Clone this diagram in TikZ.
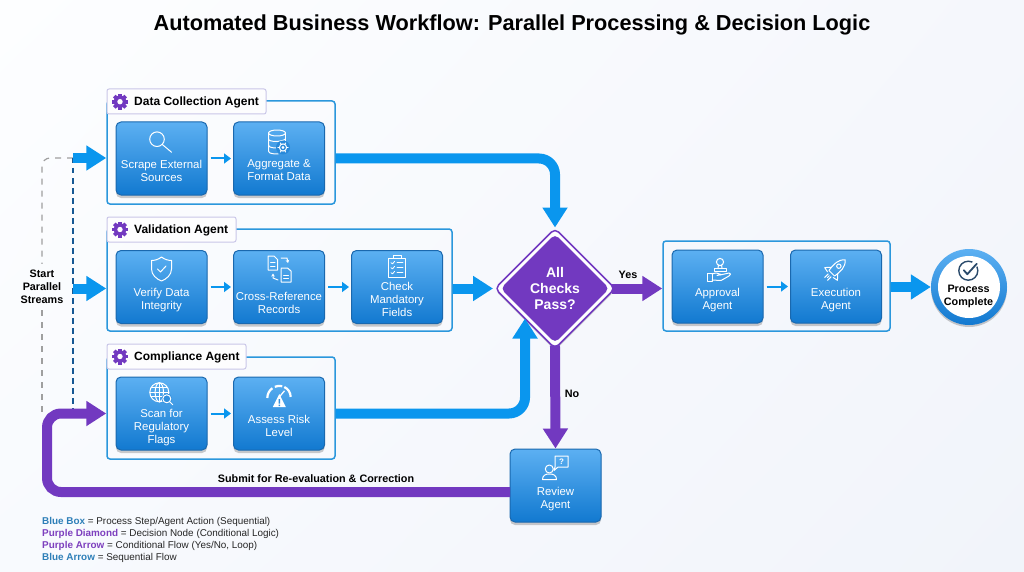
\documentclass[tikz,border=0pt]{standalone}
\usepackage{fontspec}
\setmainfont{Liberation Sans}
\usetikzlibrary{arrows.meta,shapes.geometric,shadows,shadings,calc}
\definecolor{flowblue}{HTML}{0A96EE}
\definecolor{flowpurple}{HTML}{7239C0}
\definecolor{frameblue}{HTML}{2B97DC}
\definecolor{boxtop}{HTML}{5CB0F2}
\definecolor{boxbottom}{HTML}{1279D0}
\definecolor{boxedge}{HTML}{1A68AE}
\definecolor{tabedge}{HTML}{C9C6E8}
\definecolor{legendblue}{HTML}{2E7FB8}
\definecolor{legendpurple}{HTML}{7D3FBE}
\definecolor{checkdark}{HTML}{2A4A6B}
\definecolor{bgupleft}{HTML}{FDFEFF}
\definecolor{bgupright}{HTML}{F5F7FC}
\definecolor{bglowleft}{HTML}{F8FAFE}
\definecolor{bglowright}{HTML}{F1F4FA}
\tikzset{
    stepbox/.style={draw=boxedge,line width=1pt,rounded corners=5pt,minimum width=91pt,minimum height=73pt,
        top color=boxtop,bottom color=boxbottom,inner sep=0pt,
        drop shadow={shadow xshift=0pt,shadow yshift=-3pt,opacity=.2,fill=black}},
    steptext/.style={text=white,align=center,font=\fontsize{11.4}{13}\selectfont,inner sep=0pt},
    agentframe/.style={draw=frameblue,line width=1.5pt,rounded corners=3pt,inner sep=0pt},
    agenttab/.style={draw=tabedge,line width=1pt,fill=white!97!tabedge,rounded corners=2pt,inner sep=0pt,minimum height=25pt},
    tabtext/.style={text=black,font=\bfseries\fontsize{12}{14}\selectfont,inner sep=0pt,anchor=west},
    flowlabel/.style={text=black,font=\bfseries\fontsize{10.8}{13}\selectfont,inner sep=0pt,align=center},
    bluearrow/.style={draw=flowblue,line width=10pt,-{Triangle[width=24pt,length=20pt]},rounded corners=16pt},
    purplearrow/.style={draw=flowpurple,line width=10pt,-{Triangle[width=24pt,length=20pt]},rounded corners=14pt},
    smallarrow/.style={draw=flowblue,line width=2pt,-{Triangle[width=10pt,length=7pt]},shorten <=3pt,shorten >=2pt},
    iconline/.style={draw=white,line width=1pt,line cap=round,line join=round},
    gearicon/.pic={
        \foreach \a in {0,45,...,135}
            \fill[flowpurple,rotate=\a] (-1.9,-8) rectangle (1.9,8);
        \fill[flowpurple] (0,0) circle (6.2);
        \fill[white] (0,0) circle (2.7);
    },
    magicon/.pic={
        \draw[iconline] (-3,-2.5) circle (7.3);
        \draw[iconline] (2.2,2.7) -- (11.5,10.5);
    },
    dbicon/.pic={
        \draw[iconline] (0,-8) ellipse (8.5 and 3);
        \draw[iconline] (-8.5,-8) -- (-8.5,10) .. controls (-8.5,13) and (-2,13) .. (1,13);
        \draw[iconline] (8.5,-8) -- (8.5,1);
        \draw[iconline] (-8.5,-2) .. controls (-8.5,1) and (4,1.5) .. (8.5,-2);
        \draw[iconline] (-8.5,4) .. controls (-8.5,7) and (-2,7) .. (0,7);
        \fill[boxbottom!70!boxtop] (6,6.5) circle (7);
        \draw[iconline] (6,6.5) circle (3.6);
        \draw[iconline] (6,6.5) circle (1);
        \foreach \a in {0,60,...,300}
            \draw[iconline,shift={(6,6.5)},rotate=\a] (3.6,0) -- (5.2,0);
    },
    shieldicon/.pic={
        \draw[iconline] (0,-12) .. controls (3,-9.5) and (7,-8.5) .. (10,-8.5)
            -- (10,0) .. controls (10,6) and (5,10) .. (0,12)
            .. controls (-5,10) and (-10,6) .. (-10,0) -- (-10,-8.5)
            .. controls (-7,-8.5) and (-3,-9.5) .. (0,-12) -- cycle;
        \draw[iconline] (-4,0) -- (-1,3) -- (4.5,-3);
    },
    docsicon/.pic={
        \draw[iconline] (-11,-13) -- (-5,-13) -- (-1.5,-9.5) -- (-1.5,1) -- (-11,1) -- cycle;
        \draw[iconline] (-8.5,-6.5) -- (-4,-6.5) (-8.5,-3) -- (-4,-3);
        \draw[iconline] (2,-0) -- (2,13) -- (12,13) -- (12,2) -- (8.5,-1) -- (2,-1);
        \draw[iconline] (4.5,6) -- (9.5,6) (4.5,9.5) -- (9.5,9.5);
        \draw[iconline,->,>={Stealth[length=3pt,width=3.5pt]}] (2,-11) -- (8,-11) -- (9,-6);
        \draw[iconline,->,>={Stealth[length=3pt,width=3.5pt]}] (-1,11) -- (-6,9) -- (-6,4.5);
    },
    clipicon/.pic={
        \draw[iconline] (-8.5,-8.5) -- (-8.5,11) -- (8.5,11) -- (8.5,-8.5) -- cycle;
        \draw[iconline] (-4,-8.5) -- (-4,-11) -- (4,-11) -- (4,-8.5);
        \foreach \y in {-4,1,6} {
            \draw[iconline,line width=.8pt] (-6,\y) -- (-4.5,\y+1.2) -- (-2.5,\y-1.2);
            \draw[iconline,line width=.8pt] (0,\y) -- (6,\y);
        }
    },
    globeicon/.pic={
        \draw[iconline] (0,0) circle (9.5);
        \draw[iconline] (0,0) ellipse (4.2 and 9.5);
        \draw[iconline] (0,-9.5) -- (0,9.5) (-9.5,0) -- (9.5,0);
        \draw[iconline] (-8.2,-4.6) -- (8.2,-4.6) (-8.2,4.6) -- (8.2,4.6);
        \fill[boxtop!40!boxbottom] (7.5,6.5) circle (5.4);
        \draw[iconline] (7.5,6.5) circle (4);
        \draw[iconline] (10.5,9.5) -- (13.5,12.5);
    },
    gaugeicon/.pic={
        \draw[iconline,line width=2.2pt,line cap=butt] (-12,1) arc (180:235:12);
        \draw[iconline,line width=2.2pt,line cap=butt] (-4.5,-10.2) arc (246:285:11.2);
        \draw[iconline,line width=2.2pt,line cap=butt] (5,-10) arc (295:360:11);
        \draw[iconline,line width=1.3pt] (0,0) -- (5,-6);
        \fill[white] (0,-3) -- (6.5,10) -- (-6.5,10) -- cycle;
        \fill[boxbottom!60!boxtop] (-.8,2) rectangle (.8,6.5) (-.8,7.5) rectangle (.8,9);
    },
    stampicon/.pic={
        \draw[iconline] (2,-6) circle (3.6);
        \draw[iconline] (.5,-3) -- (0,0) (3.5,-3) -- (4,0);
        \draw[iconline] (-4,0) -- (8,0) -- (8,3) -- (-4,3) -- cycle;
        \draw[iconline] (-11,5) -- (-6,5) -- (-6,13) -- (-11,13) -- cycle;
        \draw[iconline] (-6,6) .. controls (-2,4.5) and (0,5) .. (3,6.5) -- (-1,7.5);
        \draw[iconline] (2,7) -- (11,5) .. controls (13,5) and (13,7) .. (11,8) -- (3,12.5) -- (-6,12);
    },
    rocketicon/.pic={
        \begin{scope}[rotate=45]
            \draw[iconline] (13,0) .. controls (8,-5.5) and (2,-5) .. (-6,-4) -- (-6,4) .. controls (2,5) and (8,5.5) .. (13,0) -- cycle;
            \draw[iconline] (4,0) circle (2.2);
            \draw[iconline] (-2,-4.5) -- (-7,-9) -- (-8,-4);
            \draw[iconline] (-2,4.5) -- (-7,9) -- (-8,4);
            \draw[iconline] (-9,-2) -- (-14,-2) (-9,2) -- (-14,2) (-9.5,0) -- (-12,0);
        \end{scope}
    },
    revieweicon/.pic={
        \draw[iconline] (-5.7,1) circle (4);
        \draw[iconline] (-12.5,11.5) .. controls (-12.5,7) and (-9,6) .. (-5.7,6)
            .. controls (-2,6) and (1.5,7) .. (1.5,11.5) -- cycle;
        \draw[iconline] (0,-12) -- (13,-12) -- (13,-1) -- (3,-1) -- (-1,2.5) -- (0,-1) -- cycle;
    },
    checkicon/.pic={
        \draw[checkdark,line width=1.4pt] (0,0) circle (9.5);
        \fill[white] (7,-7) circle (3.5);
        \draw[checkdark,line width=1.8pt,line cap=round,line join=round] (-4.5,-.5) -- (-1,3.5) -- (8.5,-7);
    }
}
\begin{document}
\begin{tikzpicture}[x=1pt,y=-1pt]
    \useasboundingbox (0,0) rectangle (1024,572);
    \shade[upper left=bgupleft,upper right=bgupright,lower left=bglowleft,lower right=bglowright]
        (0,0) rectangle (1024,572);

    \node[text=black,font=\bfseries\fontsize{21.7}{26}\selectfont,inner sep=0pt] (title) at (512,25)
        {Automated Business Workflow: Parallel Processing \& Decision Logic};

    \node[agentframe,minimum width=228pt,minimum height=103pt] (datacollect) at (221,152.5) {};
    \node[agentframe,minimum width=345pt,minimum height=102pt] (validation) at (279.5,280) {};
    \node[agentframe,minimum width=228pt,minimum height=102pt] (compliance) at (221,408) {};
    \node[agentframe,minimum width=227pt,minimum height=90pt] (finalstage) at (776.5,286) {};

    \node[agenttab,minimum width=159pt] (datatab) at (186.5,101.5) {};
    \node[agenttab,minimum width=129pt] (validtab) at (171.5,229.5) {};
    \node[agenttab,minimum width=139pt] (compltab) at (176.5,356.5) {};
    \pic at (120,101.7) {gearicon};
    \pic at (120,229.5) {gearicon};
    \pic at (120,356.5) {gearicon};
    \node[tabtext] (datalabel) at (134,102) {Data Collection Agent};
    \node[tabtext] (validlabel) at (134,230) {Validation Agent};
    \node[tabtext] (compllabel) at (134,357) {Compliance Agent};

    \node[stepbox] (scrape) at (161.5,158.5) {};
    \node[stepbox] (aggregate) at (279,158.5) {};
    \node[stepbox] (verify) at (161.5,287) {};
    \node[stepbox] (crossref) at (279,287) {};
    \node[stepbox] (mandatory) at (397,287) {};
    \node[stepbox] (scan) at (161.5,413.5) {};
    \node[stepbox] (assess) at (279,413.5) {};
    \node[stepbox] (approval) at (717.5,286.5) {};
    \node[stepbox] (execution) at (836,286.5) {};
    \node[stepbox] (review) at (555.5,485.5) {};

    \node[steptext] (scrapetext) at (161.5,170.5) {Scrape External\\Sources};
    \node[steptext] (aggregatetext) at (279,170.5) {Aggregate \&\\Format Data};
    \node[steptext] (verifytext) at (161.5,300) {Verify Data\\Integrity};
    \node[steptext] (crossreftext) at (279,302.5) {Cross-Reference\\Records};
    \node[steptext] (mandatorytext) at (397,299) {Check\\Mandatory\\Fields};
    \node[steptext] (scantext) at (161.5,427.5) {Scan for\\Regulatory\\Flags};
    \node[steptext] (assesstext) at (279,425.5) {Assess Risk\\Level};
    \node[steptext] (approvaltext) at (717.5,300) {Approval\\Agent};
    \node[steptext] (executiontext) at (836,300) {Execution\\Agent};
    \node[steptext] (reviewtext) at (555.5,499) {Review\\Agent};

    \pic at (160,141.7) {magicon};
    \pic at (277,141) {dbicon};
    \pic at (161.5,269) {shieldicon};
    \pic at (279,269) {docsicon};
    \pic at (397,266.7) {clipicon};
    \pic at (159.3,392.3) {globeicon};
    \pic at (279.3,397) {gaugeicon};
    \pic at (718,268) {stampicon};
    \pic at (836,269) {rocketicon};
    \pic at (555,468) {revieweicon};
    \node[text=white,font=\bfseries\fontsize{8}{8}\selectfont,inner sep=0pt] (reviewmark) at (561.5,461.5) {?};

    \node[diamond,aspect=1,draw=flowpurple,line width=1.5pt,outer sep=0pt,fill=white,rounded corners=5pt,minimum size=120pt,inner sep=0pt,
        drop shadow={shadow xshift=0pt,shadow yshift=-2pt,opacity=.2,fill=black}] (decide) at (555,288.5) {};
    \node[diamond,aspect=1,fill=flowpurple,rounded corners=5pt,minimum size=109pt,inner sep=0pt,text=white,align=center,
        font=\bfseries\fontsize{14}{16}\selectfont] (decidetext) at (555,288.5) {All\\Checks\\Pass?};

    \node[circle,minimum size=76pt,inner sep=0pt,top color=boxtop,bottom color=boxbottom,
        drop shadow={shadow xshift=0pt,shadow yshift=-2pt,opacity=.2,fill=black}] (done) at (969,287) {};
    \node[circle,fill=white,minimum size=62pt,inner sep=0pt] (doneinner) at (969,287) {};
    \pic at (968.3,270.7) {checkicon};
    \node[text=black,align=center,font=\bfseries\fontsize{10.8}{13}\selectfont,inner sep=0pt] (donetext) at (968.5,296.5) {Process\\Complete};

    \node[flowlabel] (streams) at (42,287) {Start\\Parallel\\Streams};
    \node[flowlabel] (yeslabel) at (628,275) {Yes};
    \node[flowlabel] (nolabel) at (572,394) {No};
    \node[flowlabel] (looplabel) at (316,478.5) {Submit for Re-evaluation \& Correction};

    \coordinate (startdata) at (73,158);
    \coordinate (startvalid) at (73,288.5);
    \coordinate (startloop) at (73,410);
    \coordinate (greycorner) at (42,158);
    \coordinate (greyend) at (42,412);
    \coordinate (looptail) at (510,492);
    \coordinate (loopbottom) at (47,492);
    \coordinate (looptop) at (47,413.5);

    \draw[dashed,draw=gray!75,line width=1.2pt,dash pattern=on 6pt off 6pt,rounded corners=8pt,shorten >=6pt]
        (startdata) -- (greycorner) -- (streams.north);
    \draw[dashed,draw=gray!75,line width=1.2pt,dash pattern=on 6pt off 6pt,shorten <=6pt] (streams.south) -- (greyend);
    \draw[draw=boxedge!85!black,line width=1.4pt,dash pattern=on 5.5pt off 4.5pt] (startdata) -- (startloop);

    \draw[bluearrow] (startdata) -- (datacollect.west |- startdata);
    \draw[bluearrow] (startvalid) -- (validation.west |- startvalid);
    \draw[bluearrow,shorten >=1pt] (datacollect.east |- aggregate) -| (decide.north);
    \draw[bluearrow,shorten >=2pt] (validation.east |- decide) -- (decide.west);
    \draw[bluearrow] (compliance.east |- assess) -| (decide.south west);
    \draw[bluearrow] (finalstage.east |- done) -- (done.west);

    \draw[purplearrow,shorten <=-3pt] (decide.east) -- (finalstage.west |- decide);
    \draw[purplearrow,shorten <=-3pt] (decide.south) -- (review.north);
    \draw[purplearrow] (looptail) -- (loopbottom) -- (looptop) -- (compliance.west |- scan);

    \draw[smallarrow] (scrape) -- (aggregate);
    \draw[smallarrow] (verify) -- (crossref);
    \draw[smallarrow] (crossref) -- (mandatory);
    \draw[smallarrow] (scan) -- (assess);
    \draw[smallarrow] (approval) -- (execution);

    \node[anchor=west,align=left,text=black!85,font=\fontsize{9.9}{12}\selectfont,inner sep=0pt] (legend) at (42,540)
        {\textcolor{legendblue}{\textbf{Blue Box}} = Process Step/Agent Action (Sequential)\\
         \textcolor{legendpurple}{\textbf{Purple Diamond}} = Decision Node (Conditional Logic)\\
         \textcolor{legendpurple}{\textbf{Purple Arrow}} = Conditional Flow (Yes/No, Loop)\\
         \textcolor{legendblue}{\textbf{Blue Arrow}} = Sequential Flow};
\end{tikzpicture}
\end{document}
